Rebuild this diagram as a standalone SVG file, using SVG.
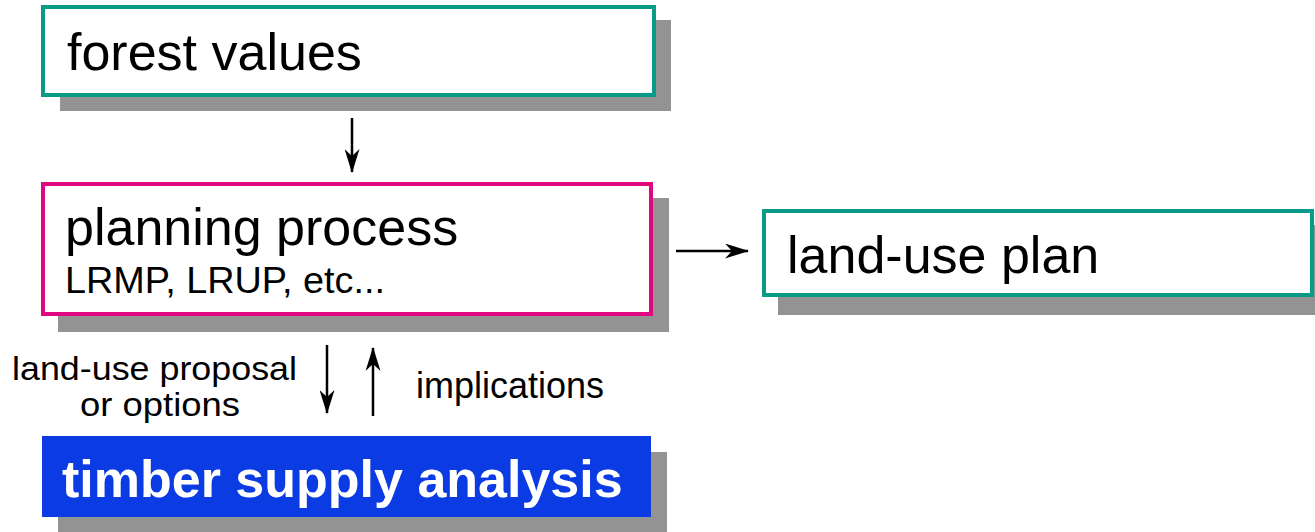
<svg xmlns="http://www.w3.org/2000/svg" width="1315" height="532" viewBox="0 0 1315 532">
<defs>
<style>
.shadow{fill:#939393}
.box{fill:#fff;stroke-width:4}
.teal{stroke:#0A9A88}
.mag{stroke:#E0087F}
.t{font-family:"Liberation Sans",Arial,sans-serif;fill:#000}
.big{font-size:52px}
.mid{font-size:36px}
.lab{font-size:33px}
.conn{stroke:#000;stroke-width:2.5;fill:none;marker-end:url(#ah)}
</style>
<marker id="ah" viewBox="0 0 24 15" refX="23" refY="7.5" markerWidth="24" markerHeight="15" markerUnits="userSpaceOnUse" orient="auto">
<path d="M0,0 L24,7.5 L0,15 L7,7.5 Z" fill="#000"/>
</marker>
</defs>
<rect width="1315" height="532" fill="#fff"/>
<g id="forest-values">
<rect class="shadow" x="60" y="20" width="611" height="91"/>
<rect class="box teal" x="43" y="7" width="611" height="88"/>
<text class="t big" x="67" y="70">forest values</text>
</g>
<g id="planning-process">
<rect class="shadow" x="58" y="198" width="611" height="134"/>
<rect class="box mag" x="43" y="184" width="608" height="130"/>
<text class="t big" x="65" y="245">planning process</text>
<text class="t" x="65" y="293" font-size="36" textLength="320" lengthAdjust="spacingAndGlyphs">LRMP, LRUP, etc...</text>
</g>
<g id="land-use-plan">
<rect class="shadow" x="778" y="225" width="537" height="90"/>
<rect class="box teal" x="764" y="211" width="548" height="84"/>
<text class="t big" x="787" y="273">land-use plan</text>
</g>
<g id="timber-supply-analysis">
<rect class="shadow" x="58" y="452" width="609" height="80"/>
<rect x="42" y="436" width="609" height="81" fill="#0B3BE3"/>
<text class="t big" x="62" y="497" font-weight="bold" style="fill:#fff">timber supply analysis</text>
</g>
<g id="connectors">
<line class="conn" x1="352" y1="118" x2="352" y2="172"/>
<line class="conn" x1="676" y1="251" x2="748" y2="251"/>
<line class="conn" x1="327" y1="345" x2="327" y2="413"/>
<line class="conn" x1="373" y1="416" x2="373" y2="348"/>
<text class="t lab" x="12" y="380" textLength="285" lengthAdjust="spacingAndGlyphs">land-use proposal</text>
<text class="t lab" x="80" y="416" textLength="160" lengthAdjust="spacingAndGlyphs">or options</text>
<text class="t mid" x="416" y="398">implications</text>
</g>
</svg>
